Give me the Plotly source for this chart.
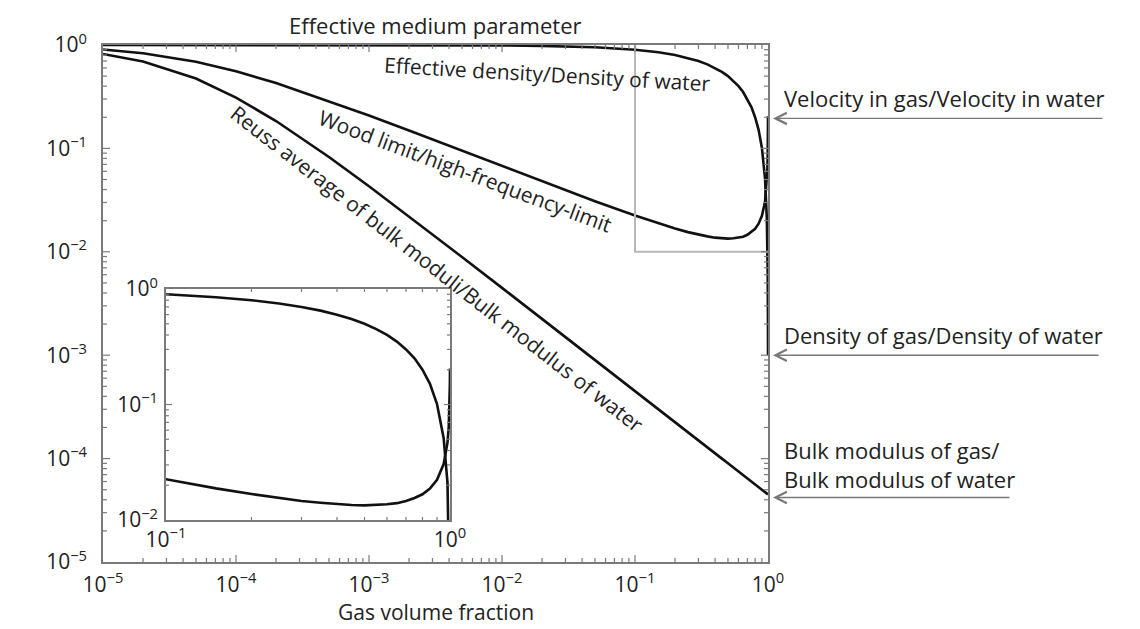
import math
import plotly.graph_objects as go

# ---------------- data ----------------
gas_fraction = [1e-5, 2e-5, 5e-5, 1e-4, 2e-4, 5e-4, 1e-3, 2e-3, 5e-3, 1e-2, 2e-2, 5e-2,
                0.1, 0.15, 0.2, 0.25, 0.3, 0.35, 0.4, 0.45, 0.5, 0.55, 0.6, 0.65, 0.7,
                0.75, 0.8, 0.85, 0.9, 0.95, 0.98, 0.99, 0.995, 0.999, 1.0]
density_ratio = [1.0, 1.0, 0.99995, 0.9999, 0.9998, 0.9995, 0.999, 0.998, 0.995, 0.99, 0.98, 0.95,
                 0.9, 0.85, 0.8, 0.75, 0.7, 0.65, 0.6, 0.55, 0.5, 0.45, 0.4, 0.351, 0.3,
                 0.251, 0.2, 0.151, 0.101, 0.051, 0.021, 0.011, 0.006, 0.002, 0.001]
wood_ratio = [0.905, 0.832, 0.688, 0.557, 0.429, 0.287, 0.208, 0.149, 0.0947, 0.0673, 0.0479, 0.0308,
              0.0224, 0.0188, 0.0168, 0.0155, 0.0146, 0.0141, 0.0137, 0.0135, 0.0134, 0.0135, 0.0137,
              0.0140, 0.0146, 0.0155, 0.0167, 0.0187, 0.0223, 0.0305, 0.0468, 0.0643, 0.0869, 0.150, 0.205]
reuss_ratio = [0.818, 0.692, 0.474, 0.310, 0.184, 0.0826, 0.0431, 0.0220, 0.00892, 0.00448, 0.00225, 0.000899,
               0.000450, 0.000300, 0.000225, 0.000180, 0.000150, 0.000129, 0.000113, 0.000100, 0.0000900,
               0.0000818, 0.0000750, 0.0000692, 0.0000643, 0.0000600, 0.0000563, 0.0000529, 0.0000500,
               0.0000474, 0.0000459, 0.0000455, 0.0000452, 0.0000450, 0.0000450]

# zoom box (inset region) corners
box_x = [0.1, 0.1, 1.0]
box_y = [1.0, 0.01, 0.01]

# gas/water end-member ratios marked by arrows
velocity_gas_water = 0.195
density_gas_water = 0.001
bulk_gas_water = 0.000042

main_tickvals = [1e-5, 1e-4, 1e-3, 1e-2, 1e-1, 1e0]
main_ticktext = ["10<sup>\u22125</sup>", "10<sup>\u22124</sup>", "10<sup>\u22123</sup>",
                 "10<sup>\u22122</sup>", "10<sup>\u22121</sup>", "10<sup>0</sup>"]
inset_xtickvals = [1e-1, 1e0]
inset_xticktext = ["10<sup>\u22121</sup>", "10<sup>0</sup>"]
inset_ytickvals = [1e-2, 1e-1, 1e0]
inset_yticktext = ["10<sup>\u22122</sup>", "10<sup>\u22121</sup>", "10<sup>0</sup>"]

# ---------------- styling ----------------
FONT = "Open Sans"
AX = "#7a7a7a"
TXT = "#222222"
LINE = dict(color="#111111", width=2.6)

fig = go.Figure()

for ys in (density_ratio, wood_ratio, reuss_ratio):
    fig.add_trace(go.Scatter(x=gas_fraction, y=ys, mode="lines", line=LINE,
                             xaxis="x", yaxis="y", showlegend=False, hoverinfo="skip"))
fig.add_trace(go.Scatter(x=box_x, y=box_y, mode="lines", line=dict(color="#b8b8b8", width=2),
                         xaxis="x", yaxis="y", showlegend=False, hoverinfo="skip"))
for ys in (density_ratio, wood_ratio):
    fig.add_trace(go.Scatter(x=gas_fraction, y=ys, mode="lines", line=LINE,
                             xaxis="x2", yaxis="y2", showlegend=False, hoverinfo="skip"))

def axis_style(**kw):
    d = dict(type="log", showgrid=False, zeroline=False, showline=True, linecolor=AX,
             linewidth=1.6, mirror=True, ticks="", tickmode="array",
             tickfont=dict(family=FONT, size=21, color=TXT))
    d.update(kw)
    return d

# page body has an 8px margin: the figure is shifted by 8px, so size/margins compensate
MAIN_W, MAIN_H = 665, 517
INS_DX, INS_DY = [0.0947, 0.5218], [0.0812, 0.528]
INS_W, INS_H = MAIN_W * (INS_DX[1] - INS_DX[0]), MAIN_H * (INS_DY[1] - INS_DY[0])

fig.update_layout(
    width=1132, height=621, autosize=False,
    paper_bgcolor="white", plot_bgcolor="white",
    margin=dict(l=95, r=372, t=37, b=67),
    xaxis=axis_style(range=[-5, 0], tickvals=main_tickvals, ticktext=main_ticktext,
                     domain=[0, 1], anchor="y", ticklabelstandoff=3),
    yaxis=axis_style(range=[-5, 0], tickvals=main_tickvals, ticktext=main_ticktext,
                     domain=[0, 1], anchor="x", ticklabelstandoff=10),
    xaxis2=axis_style(range=[-1, 0], tickvals=inset_xtickvals, ticktext=inset_xticktext,
                      domain=INS_DX, anchor="y2"),
    yaxis2=axis_style(range=[-2, 0], tickvals=inset_ytickvals, ticktext=inset_yticktext,
                      domain=INS_DY, anchor="x2", ticklabelstandoff=2),
)

# inward tick marks on all four sides (log positions as fractions of each axis domain)
def tick_shapes(xref, yref, dec_x, dec_y, w, h, major_len, minor_len):
    shapes = []
    lo_x, hi_x = dec_x
    lo_y, hi_y = dec_y
    for e in range(lo_x, hi_x):
        for m in range(1, 10):
            if m == 1 and e == lo_x:
                continue
            f = (math.log10(m) + e - lo_x) / (hi_x - lo_x)
            ln = (major_len if m == 1 else minor_len) / h
            for y0, y1 in ((0, ln), (1 - ln, 1)):
                shapes.append(dict(type="line", xref=xref, yref=yref, x0=f, x1=f, y0=y0, y1=y1,
                                   line=dict(color=AX, width=1.2), layer="above"))
    for e in range(lo_y, hi_y):
        for m in range(1, 10):
            if m == 1 and e == lo_y:
                continue
            f = (math.log10(m) + e - lo_y) / (hi_y - lo_y)
            ln = (major_len if m == 1 else minor_len) / w
            for x0, x1 in ((0, ln), (1 - ln, 1)):
                shapes.append(dict(type="line", xref=xref, yref=yref, x0=x0, x1=x1, y0=f, y1=f,
                                   line=dict(color=AX, width=1.2), layer="above"))
    return shapes

shapes = tick_shapes("x domain", "y domain", (-5, 0), (-5, 0), MAIN_W, MAIN_H, 7, 4)
shapes += tick_shapes("x2 domain", "y2 domain", (-1, 0), (-2, 0), INS_W, INS_H, 6, 3)
fig.update_layout(shapes=shapes)

def label(text, x, y, angle=0, size=22, xanchor="center"):
    return dict(text=text, xref="paper", yref="paper", x=x, y=y, textangle=angle,
                xanchor=xanchor, yanchor="middle", showarrow=False,
                font=dict(family=FONT, size=size, color=TXT))

annotations = [
    label("Effective medium parameter", 0.5, 1.0387),
    label("Gas volume fraction", 0.5, -0.0967, size=21),
    label("Effective density/Density of water", 0.669, 0.944, 3.3, 21),
    label("Wood limit/high-frequency-limit", 0.545, 0.757, 20.5, 21),
    label("Reuss average of bulk moduli/Bulk modulus of water", 0.503, 0.566, 37.9, 21),
    label("Velocity in gas/Velocity in water", 1.021, 0.8975, xanchor="left"),
    label("Density of gas/Density of water", 1.021, 0.439, xanchor="left"),
    label("Bulk modulus of gas/", 1.021, 0.2166, xanchor="left"),
    label("Bulk modulus of water", 1.021, 0.160, xanchor="left"),
]
for val, length in ((velocity_gas_water, 336), (density_gas_water, 332), (bulk_gas_water, 243)):
    annotations.append(dict(text="", xref="paper", yref="y", x=1.0, y=math.log10(val),
                            showarrow=True, axref="pixel", ayref="pixel", ax=length, ay=0,
                            arrowhead=5, arrowsize=1.6, arrowwidth=1.4, arrowcolor="#777777",
                            standoff=5))
fig.update_layout(annotations=annotations)

fig.write_html("out.html")
